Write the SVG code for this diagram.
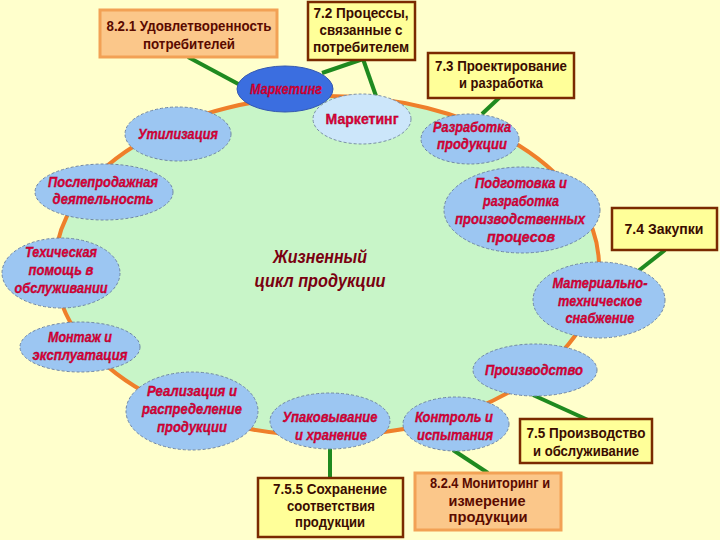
<svg xmlns="http://www.w3.org/2000/svg" width="720" height="540" viewBox="0 0 720 540">
<style>
.bg{fill:#ffffcc}
.ring{fill:#c8f5c8;stroke:#ef7f2a;stroke-width:4}
.node{fill:#9cc6f2;stroke:#6f86a6;stroke-width:1;stroke-dasharray:3 2}
.nt{font-family:"Liberation Sans",Arial,sans-serif;font-size:14px;font-weight:bold;font-style:italic;fill:#e4003a;stroke:#8a0020;stroke-width:0.3;text-anchor:middle}
.box{fill:#ffff99;stroke:#7a2a00;stroke-width:2.5}
.obox{fill:#fbc78a;stroke:#f2a155;stroke-width:3}
.bt{font-family:"Liberation Sans",Arial,sans-serif;font-size:14px;font-weight:bold;fill:#3a0c00;text-anchor:middle}
.ot{fill:#5a0a00}
.link{stroke:#1f8a1f;stroke-width:4;fill:none}
.title{font-family:"Liberation Sans",Arial,sans-serif;font-size:19px;font-weight:bold;font-style:italic;fill:#7a0010;text-anchor:middle}
</style>
<rect class="bg" x="0" y="0" width="720" height="540"/>
<g id="cycle">
<ellipse class="ring" cx="327" cy="266" rx="272" ry="170"/>
<text class="title" x="320" y="263" textLength="94" lengthAdjust="spacingAndGlyphs">Жизненный</text>
<text class="title" x="320" y="287" textLength="131" lengthAdjust="spacingAndGlyphs">цикл продукции</text>
</g>
<g id="connectors">
<line class="link" x1="188" y1="57" x2="242" y2="86"/>
<line class="link" x1="363" y1="59" x2="322" y2="73"/>
<line class="link" x1="363" y1="59" x2="376" y2="96"/>
<line class="link" x1="500" y1="97" x2="482" y2="114"/>
<line class="link" x1="665" y1="250" x2="637" y2="272"/>
<line class="link" x1="588" y1="420" x2="533" y2="395"/>
<line class="link" x1="488" y1="473" x2="453" y2="450"/>
<line class="link" x1="330" y1="478" x2="330" y2="448"/>
</g>
<g id="n-marketing-dark">
<ellipse cx="285" cy="89" rx="48" ry="23" fill="#3b6ee0" stroke="#3458b0" stroke-width="1"/>
<text class="nt" x="286" y="94" textLength="72" lengthAdjust="spacingAndGlyphs">Маркетинг</text>
</g>
<g id="n-marketing-light">
<ellipse cx="362" cy="119" rx="49" ry="25" fill="#cce6fa" stroke="#7a8fa8" stroke-width="1" stroke-dasharray="3 2"/>
<text class="nt" x="362" y="124" textLength="73" lengthAdjust="spacingAndGlyphs" style="font-style:normal">Маркетинг</text>
</g>
<g id="n-util">
<ellipse class="node" cx="178" cy="134" rx="53" ry="27"/>
<text class="nt" x="178" y="139" textLength="80" lengthAdjust="spacingAndGlyphs">Утилизация</text>
</g>
<g id="n-razr">
<ellipse class="node" cx="470" cy="139" rx="49" ry="25"/>
<text class="nt" x="472" y="132" textLength="78" lengthAdjust="spacingAndGlyphs">Разработка</text>
<text class="nt" x="472" y="149" textLength="70" lengthAdjust="spacingAndGlyphs">продукции</text>
</g>
<g id="n-posle">
<ellipse class="node" cx="104" cy="192" rx="69" ry="28"/>
<text class="nt" x="103" y="187" textLength="110" lengthAdjust="spacingAndGlyphs">Послепродажная</text>
<text class="nt" x="103" y="204" textLength="101" lengthAdjust="spacingAndGlyphs">деятельность</text>
</g>
<g id="n-podg">
<ellipse class="node" cx="522" cy="210" rx="78" ry="43"/>
<text class="nt" x="521" y="188" textLength="92" lengthAdjust="spacingAndGlyphs">Подготовка и</text>
<text class="nt" x="521" y="206" textLength="76" lengthAdjust="spacingAndGlyphs">разработка</text>
<text class="nt" x="520" y="224" textLength="130" lengthAdjust="spacingAndGlyphs">производственных</text>
<text class="nt" x="521" y="242" textLength="68" lengthAdjust="spacingAndGlyphs">процесов</text>
</g>
<g id="n-tech">
<ellipse class="node" cx="61" cy="273" rx="59" ry="35"/>
<text class="nt" x="61" y="257" textLength="72" lengthAdjust="spacingAndGlyphs">Техическая</text>
<text class="nt" x="61" y="275" textLength="65" lengthAdjust="spacingAndGlyphs">помощь в</text>
<text class="nt" x="61" y="293" textLength="93" lengthAdjust="spacingAndGlyphs">обслуживании</text>
</g>
<g id="n-mat">
<ellipse class="node" cx="599" cy="300" rx="66" ry="38"/>
<text class="nt" x="600" y="288" textLength="95" lengthAdjust="spacingAndGlyphs">Материально-</text>
<text class="nt" x="600" y="306" textLength="84" lengthAdjust="spacingAndGlyphs">техническое</text>
<text class="nt" x="600" y="323" textLength="69" lengthAdjust="spacingAndGlyphs">снабжение</text>
</g>
<g id="n-mont">
<ellipse class="node" cx="80" cy="347" rx="60" ry="25"/>
<text class="nt" x="80" y="342" textLength="64" lengthAdjust="spacingAndGlyphs">Монтаж и</text>
<text class="nt" x="80" y="360" textLength="95" lengthAdjust="spacingAndGlyphs">эксплуатация</text>
</g>
<g id="n-proizv">
<ellipse class="node" cx="535" cy="370" rx="62" ry="26"/>
<text class="nt" x="534" y="375" textLength="98" lengthAdjust="spacingAndGlyphs">Производство</text>
</g>
<g id="n-real">
<ellipse class="node" cx="192" cy="411" rx="66" ry="39"/>
<text class="nt" x="192" y="396" textLength="90" lengthAdjust="spacingAndGlyphs">Реализация и</text>
<text class="nt" x="192" y="414" textLength="100" lengthAdjust="spacingAndGlyphs">распределение</text>
<text class="nt" x="192" y="432" textLength="70" lengthAdjust="spacingAndGlyphs">продукции</text>
</g>
<g id="n-upak">
<ellipse class="node" cx="330" cy="421" rx="60" ry="28"/>
<text class="nt" x="330" y="422" textLength="95" lengthAdjust="spacingAndGlyphs">Упаковывание</text>
<text class="nt" x="331" y="440" textLength="72" lengthAdjust="spacingAndGlyphs">и хранение</text>
</g>
<g id="n-kontr">
<ellipse class="node" cx="456" cy="424" rx="53" ry="27"/>
<text class="nt" x="454" y="422" textLength="78" lengthAdjust="spacingAndGlyphs">Контроль и</text>
<text class="nt" x="455" y="440" textLength="76" lengthAdjust="spacingAndGlyphs">испытания</text>
</g>
<g id="b-821">
<rect class="obox" x="100" y="10" width="177" height="47"/>
<text class="bt ot" x="189" y="31" textLength="165" lengthAdjust="spacingAndGlyphs">8.2.1  Удовлетворенность</text>
<text class="bt ot" x="189" y="49" textLength="92" lengthAdjust="spacingAndGlyphs">потребителей</text>
</g>
<g id="b-72">
<rect class="box" x="308" y="2" width="107" height="58"/>
<text class="bt" x="361" y="18" textLength="95" lengthAdjust="spacingAndGlyphs">7.2  Процессы,</text>
<text class="bt" x="361" y="35" textLength="83" lengthAdjust="spacingAndGlyphs">связанные с</text>
<text class="bt" x="361" y="52" textLength="96" lengthAdjust="spacingAndGlyphs">потребителем</text>
</g>
<g id="b-73">
<rect class="box" x="428" y="53" width="146" height="45"/>
<text class="bt" x="501" y="71" textLength="132" lengthAdjust="spacingAndGlyphs">7.3   Проектирование</text>
<text class="bt" x="501" y="88" textLength="84" lengthAdjust="spacingAndGlyphs">и разработка</text>
</g>
<g id="b-74">
<rect class="box" x="612" y="208" width="105" height="42"/>
<text class="bt" x="664" y="234" textLength="79" lengthAdjust="spacingAndGlyphs">7.4  Закупки</text>
</g>
<g id="b-75">
<rect class="box" x="520" y="419" width="132" height="44"/>
<text class="bt" x="586" y="438" textLength="119" lengthAdjust="spacingAndGlyphs">7.5  Производство</text>
<text class="bt" x="586" y="456" textLength="106" lengthAdjust="spacingAndGlyphs">и обслуживание</text>
</g>
<g id="b-824">
<rect class="obox" x="415" y="473" width="146" height="57"/>
<text class="bt ot" x="490" y="488" textLength="120" lengthAdjust="spacingAndGlyphs">8.2.4  Мониторинг и</text>
<text class="bt ot" x="487" y="506" textLength="77" lengthAdjust="spacingAndGlyphs">измерение</text>
<text class="bt ot" x="488" y="522" textLength="79" lengthAdjust="spacingAndGlyphs">продукции</text>
</g>
<g id="b-755">
<rect class="box" x="258" y="478" width="145" height="59"/>
<text class="bt" x="330" y="494" textLength="114" lengthAdjust="spacingAndGlyphs">7.5.5  Сохранение</text>
<text class="bt" x="331" y="511" textLength="88" lengthAdjust="spacingAndGlyphs">соответствия</text>
<text class="bt" x="330" y="527" textLength="70" lengthAdjust="spacingAndGlyphs">продукции</text>
</g>
</svg>
